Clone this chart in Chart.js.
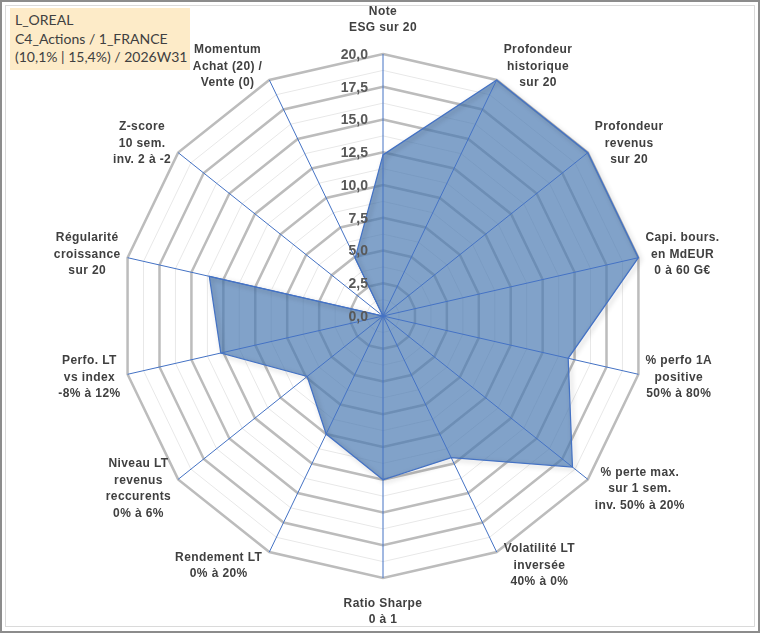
<!DOCTYPE html>
<html>
<head>
<meta charset="utf-8">
<script src="https://cdn.jsdelivr.net/npm/chart.js@4.4.1/dist/chart.umd.min.js"></script>
<style>
html,body{margin:0;padding:0;background:#fff;}
#wrap{position:relative;width:760px;height:633px;overflow:hidden;background:#fff;}
canvas{position:absolute;left:0;top:0;}
#frame{position:absolute;left:0;top:0;width:760px;height:633px;box-sizing:border-box;border:2px solid #8c8c8c;pointer-events:none;}
#frame2{position:absolute;left:3px;top:3px;right:3px;bottom:4px;border:1px solid #dadada;pointer-events:none;}
#title{position:absolute;left:10px;top:8px;width:180px;height:62px;background:#FDEBC8;font-family:Lato,"Open Sans",sans-serif;font-size:14px;color:#404040;line-height:18.5px;padding:3px 0 0 5px;box-sizing:border-box;white-space:nowrap;}
</style>
</head>
<body>
<div id="wrap">
  <canvas id="c" width="760" height="633"></canvas>
  <div id="title">L_OREAL<br>C4_Actions / 1_FRANCE<br>(10,1% | 15,4%) / 2026W31</div>
  <div id="frame"><div id="frame2"></div></div>
</div>
<script>
// ---- data ----
const categories = [
  ['Note', 'ESG sur 20'],
  ['Profondeur', 'historique', 'sur 20'],
  ['Profondeur', 'revenus', 'sur 20'],
  ['Capi. bours.', 'en MdEUR', '0 à 60 G€'],
  ['% perfo 1A', 'positive', '50% à 80%'],
  ['% perte max.', 'sur 1 sem.', 'inv. 50% à 20%'],
  ['Volatilité LT', 'inversée', '40% à 0%'],
  ['Ratio Sharpe', '0 à 1'],
  ['Rendement LT', '0% à 20%'],
  ['Niveau LT', 'revenus', 'reccurents', '0% à 6%'],
  ['Perfo. LT', 'vs index', '-8% à 12%'],
  ['Régularité', 'croissance', 'sur 20'],
  ['Z-score', '10 sem.', 'inv. 2 à -2'],
  ['Momentum', 'Achat (20) /', 'Vente (0)']
];
const scores = [12.3, 20, 20, 20, 14.5, 18.5, 12.0, 12.5, 10.0, 7.4, 12.7, 13.6, 0, 4.9];
const tickValues = [0, 2.5, 5, 7.5, 10, 12.5, 15, 17.5, 20];
const tickLabels = ['0,0', '2,5', '5,0', '7,5', '10,0', '12,5', '15,0', '17,5', '20,0'];

const overlay = {
  id: 'overlay',
  beforeDatasetDraw(chart) {
    const ctx = chart.ctx;
    ctx.save();
    ctx.shadowColor = 'rgba(0,0,0,0.3)';
    ctx.shadowBlur = 5;
    ctx.shadowOffsetX = 2;
    ctx.shadowOffsetY = 2;
  },
  afterDatasetDraw(chart) {
    chart.ctx.restore();
  },
  afterDatasetsDraw(chart) {
    const s = chart.scales.r;
    const ctx = chart.ctx;
    const n = categories.length;
    ctx.save();
    // angle lines on top of the fill
    ctx.strokeStyle = '#4472C4';
    ctx.lineWidth = 1;
    for (let i = 0; i < n; i++) {
      const p = s.getPointPosition(i, s.drawingArea);
      ctx.beginPath();
      ctx.moveTo(s.xCenter, s.yCenter);
      ctx.lineTo(p.x, p.y);
      ctx.stroke();
    }
    // radial tick labels
    ctx.font = 'bold 14px "Liberation Sans", Arial, sans-serif';
    ctx.fillStyle = '#595959';
    ctx.textAlign = 'right';
    ctx.textBaseline = 'middle';
    tickValues.forEach((v, k) => {
      const y = s.yCenter - s.getDistanceFromCenterForValue(v);
      ctx.fillText(tickLabels[k], s.xCenter - 15, y + 1);
    });
    // point labels
    ctx.font = 'bold 12px "Liberation Sans", Arial, sans-serif';
    if ('letterSpacing' in ctx) ctx.letterSpacing = '0.4px';
    ctx.fillStyle = '#404040';
    ctx.textAlign = 'center';
    const lineH = 16.5;
    for (let i = 0; i < n; i++) {
      const lines = categories[i];
      const a = s.getIndexAngle(i);
      const sin = Math.sin(a), cos = Math.cos(a);
      const v = s.getPointPosition(i, s.drawingArea);
      let W = 0;
      lines.forEach(l => { W = Math.max(W, ctx.measureText(l).width); });
      const H = lines.length * lineH;
      let cx, cy;
      if (Math.abs(sin) < 0.01) {
        cx = v.x;
        cy = cos > 0 ? v.y - (18 + H / 2) : v.y + (17 + H / 2);
      } else {
        cx = v.x + Math.sign(sin) * (W / 2 + 7);
        cy = s.yCenter - cos * (s.drawingArea + 15);
      }
      lines.forEach((l, j) => {
        ctx.fillText(l, cx, cy - H / 2 + lineH * (j + 0.5));
      });
    }
    ctx.restore();
  }
};

new Chart(document.getElementById('c'), {
  type: 'radar',
  data: {
    labels: categories,
    datasets: [{
      data: scores,
      fill: true,
      backgroundColor: 'rgba(76,122,178,0.70)',
      borderColor: '#4472C4',
      borderWidth: 1.25,
      pointRadius: 0,
      pointHoverRadius: 0
    }]
  },
  options: {
    responsive: false,
    animation: false,
    layout: { padding: { top: 54, bottom: 55, left: 121, right: 115 } },
    plugins: { legend: { display: false }, tooltip: { enabled: false } },
    scales: {
      r: {
        min: 0,
        max: 20,
        ticks: { display: false, stepSize: 1.25 },
        pointLabels: { display: false },
        angleLines: { display: false },
        grid: {
          circular: false,
          color: c => (c.tick && Math.abs(c.tick.value % 2.5) < 1e-6) ? '#BCBCBC' : '#E8E8E8',
          lineWidth: c => (c.tick && Math.abs(c.tick.value % 2.5) < 1e-6) ? 2.5 : 1
        }
      }
    }
  },
  plugins: [overlay]
});
</script>
</body>
</html>
